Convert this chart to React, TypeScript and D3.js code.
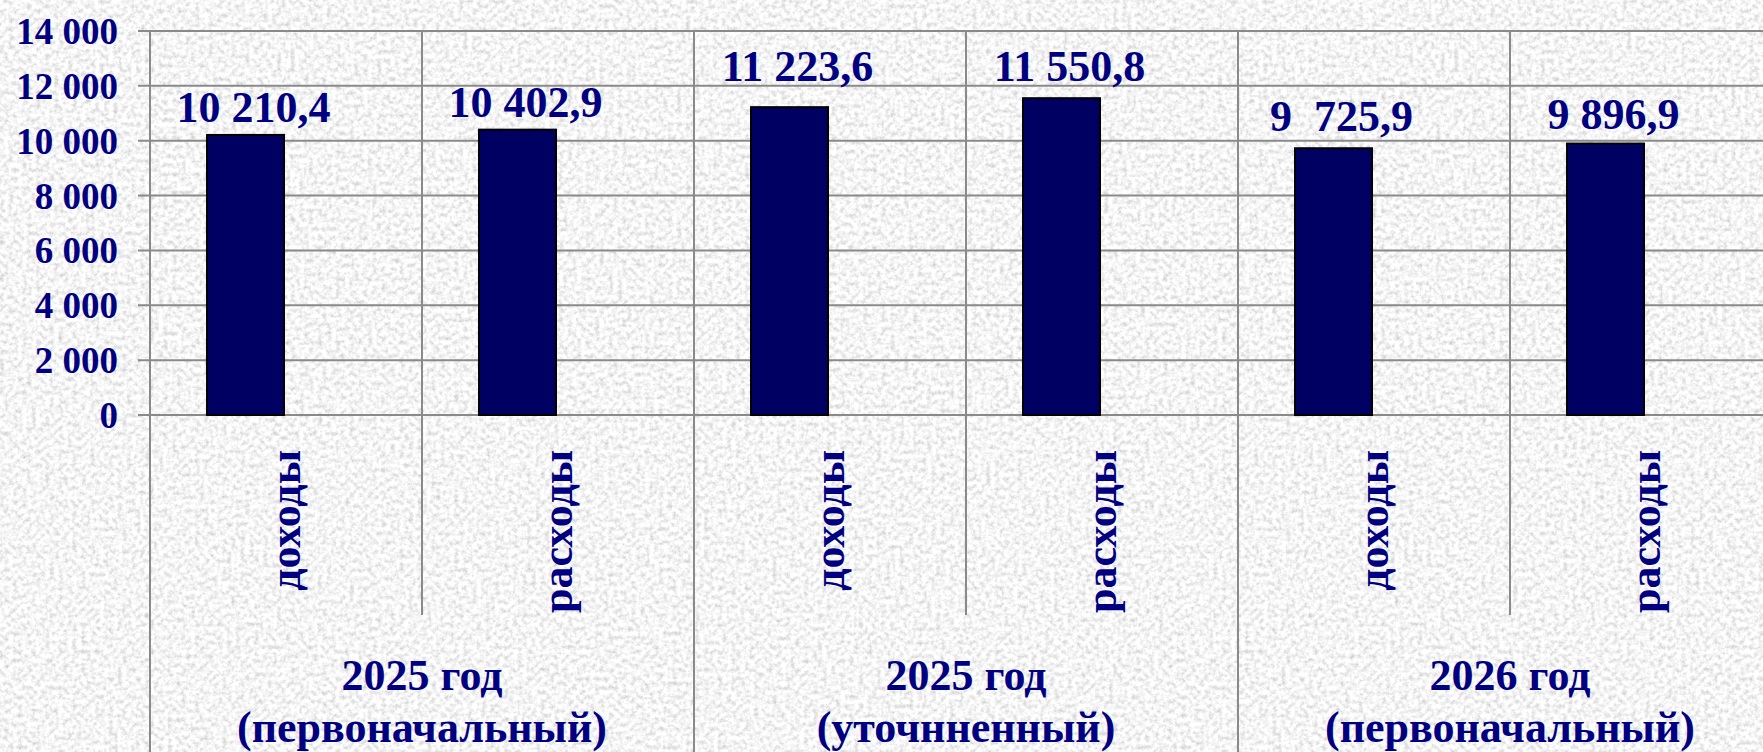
import React from 'react';
import * as d3 from 'd3';

// Budget figures, млн руб.
const groups = ['2025 год (первоначальный)', '2025 год (уточнненный)', '2026 год (первоначальный)'];
const groupLines = [
  ['2025 год', '(первоначальный)'],
  ['2025 год', '(уточнненный)'],
  ['2026 год', '(первоначальный)'],
];
const categories = ['доходы', 'расходы', 'доходы', 'расходы', 'доходы', 'расходы'];
const values = [10210.4, 10402.9, 11223.6, 11550.8, 9725.9, 9896.9];
const valueLabels = ['10 210,4', '10 402,9', '11 223,6', '11 550,8', '9  725,9', '9 896,9'];
const yTicks = [0, 2000, 4000, 6000, 8000, 10000, 12000, 14000];
const yTickLabels = ['0', '2 000', '4 000', '6 000', '8 000', '10 000', '12 000', '14 000'];

const W = 1763;
const H = 752;
const TEXT = '#000080';
const BAR = '#000062';
const GRID = '#8a8a8a';
const FONT = '"Liberation Serif", "Times New Roman", serif';

// labels were nudged by hand in the original, so lift differs per bar
const labelLift = [13, 13, 26, 17, 17, 15];

const App = () => {
  const plotLeft = 150;
  const catWidth = 272;
  const plotTop = 31;
  const plotBottom = 415;

  const x = d3
    .scaleBand<number>()
    .domain(d3.range(categories.length))
    .range([plotLeft, plotLeft + catWidth * categories.length])
    .padding(0);

  const gx = d3
    .scaleBand<number>()
    .domain(d3.range(groups.length))
    .range([plotLeft, plotLeft + catWidth * categories.length])
    .padding(0);

  const y = d3.scaleLinear().domain([0, 14000]).range([plotBottom, plotTop]);

  const barW = x.bandwidth() * 0.283;

  return (
    <svg
      width={W}
      height={H}
      style={{ position: 'absolute', left: 0, top: 0, display: 'block' }}
      fontFamily={FONT}
      fontWeight="bold"
    >
      <defs>
        <filter id="granite" x="0" y="0" width={W} height={H} filterUnits="userSpaceOnUse">
          <feTurbulence type="fractalNoise" baseFrequency="0.22" numOctaves="4" seed="11" result="n" />
          <feColorMatrix
            in="n"
            type="matrix"
            values="0.75 0 0 0 0.54  0.75 0 0 0 0.54  0.75 0 0 0 0.54  0 0 0 0 1"
            result="g"
          />
          <feGaussianBlur in="g" stdDeviation="0.6" />
        </filter>
      </defs>
      <rect width={W} height={H} fill="#e6e6e6" />
      <rect width={W} height={H} filter="url(#granite)" />

      {/* horizontal gridlines + ticks */}
      {yTicks.map((t) => (
        <line
          key={'h' + t}
          x1={plotLeft - 12}
          x2={W}
          y1={y(t)}
          y2={y(t)}
          stroke={GRID}
          strokeWidth={2}
        />
      ))}

      {/* vertical lines: category boundaries */}
      {d3.range(categories.length + 1).map((i) => {
        const xx = plotLeft + i * catWidth;
        const groupEdge = i % 2 === 0;
        return (
          <line
            key={'v' + i}
            x1={xx}
            x2={xx}
            y1={plotTop}
            y2={groupEdge ? H : 615}
            stroke={GRID}
            strokeWidth={2}
          />
        );
      })}

      {/* y tick labels */}
      {yTicks.map((t, i) => (
        <text
          key={'yl' + t}
          x={118}
          y={y(t)}
          dy="0.35em"
          textAnchor="end"
          fontSize={37}
          fill={TEXT}
        >
          {yTickLabels[i]}
        </text>
      ))}

      {/* bars */}
      {values.map((v, i) => {
        const cx = (x(i) as number) + x.bandwidth() / 2;
        return (
          <rect
            key={'b' + i}
            x={cx - barW - 2}
            y={y(v)}
            width={barW}
            height={y(0) - y(v)}
            fill={BAR}
            stroke="#000"
            strokeWidth={2}
          />
        );
      })}

      {/* value labels */}
      {values.map((v, i) => {
        const cx = (x(i) as number) + x.bandwidth() / 2;
        return (
          <text
            key={'vl' + i}
            x={cx - barW / 2 + 6}
            y={y(v) - labelLift[i]}
            textAnchor="middle"
            fontSize={44}
            fill={TEXT}
            style={{ whiteSpace: 'pre' }}
          >
            {valueLabels[i]}
          </text>
        );
      })}

      {/* category labels, rotated */}
      {categories.map((c, i) => {
        const cx = (x(i) as number) + x.bandwidth() / 2 + 14;
        return (
          <text
            key={'c' + i}
            transform={`translate(${cx},450) rotate(-90)`}
            textAnchor="end"
            fontSize={44}
            fill={TEXT}
          >
            {c}
          </text>
        );
      })}

      {/* group labels */}
      {groups.map((g, gi) => {
        const cx = (gx(gi) as number) + gx.bandwidth() / 2;
        return (
          <text key={'g' + gi} textAnchor="middle" fontSize={44} fill={TEXT}>
            <tspan x={cx} y={690}>
              {groupLines[gi][0]}
            </tspan>
            <tspan x={cx} y={742}>
              {groupLines[gi][1]}
            </tspan>
          </text>
        );
      })}
    </svg>
  );
};

export default App;
